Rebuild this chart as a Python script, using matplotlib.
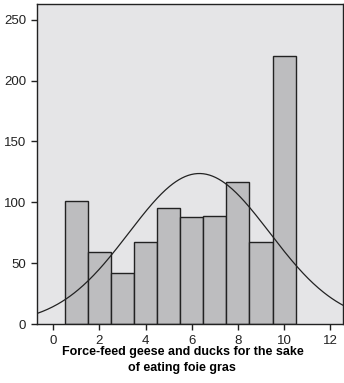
import numpy as np
import matplotlib.pyplot as plt

plt.rcParams['font.family'] = ['Liberation Sans', 'DejaVu Sans']

# histogram counts per score (1..10)
scores = [1, 2, 3, 4, 5, 6, 7, 8, 9, 10]
counts = [101, 59, 42, 67, 95, 88, 89, 117, 67, 220]

x_ticks = [0, 2, 4, 6, 8, 10, 12]
y_ticks = [0, 50, 100, 150, 200, 250]
xlabel = 'Force-feed geese and ducks for the sake\nof eating foie gras'

fig = plt.figure(figsize=(3.44, 3.83), dpi=100)
ax = fig.add_axes([0.108, 0.154, 0.889, 0.836])
ax.set_facecolor('#e5e5e7')

ax.bar(scores, counts, width=1.0, color='#bdbdbf', edgecolor='#222222', linewidth=1.0, zorder=2)

# normal curve fitted to the histogram
s = np.array(scores, dtype=float)
c = np.array(counts, dtype=float)
n = c.sum()
mu = (s * c).sum() / n
sd = np.sqrt(((s - mu) ** 2 * c).sum() / n)
xx = np.linspace(-0.7, 12.6, 300)
yy = n / (sd * np.sqrt(2 * np.pi)) * np.exp(-0.5 * ((xx - mu) / sd) ** 2)
ax.plot(xx, yy, color='#222222', linewidth=0.9, zorder=3)

ax.set_xlim(-0.7, 12.55)
ax.set_ylim(0, 263)
ax.set_xticks(x_ticks)
ax.set_yticks(y_ticks)
ax.tick_params(direction='out', length=4, width=1, labelsize=9.5, colors='#222222', pad=4)
for sp in ax.spines.values():
    sp.set_color('#222222')
    sp.set_linewidth(1.0)

ax.set_xlabel(xlabel, fontsize=9, fontweight='bold', linespacing=1.4)
ax.xaxis.set_label_coords(0.475, -0.07)

fig.savefig('out.png', dpi=100)
